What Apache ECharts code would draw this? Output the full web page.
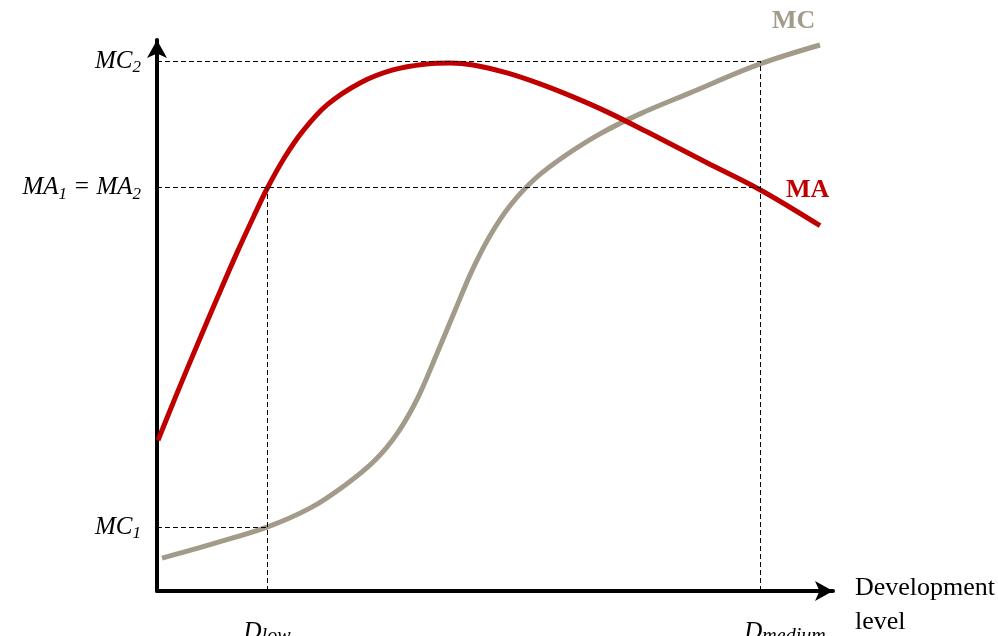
<!DOCTYPE html>
<html><head><meta charset="utf-8">
<script src="https://cdn.jsdelivr.net/npm/echarts@6/dist/echarts.min.js"></script>
<style>html,body{margin:0;padding:0;background:#fff}#c{width:998px;height:636px}</style>
</head><body><div id="c"></div>
<script>
// Conceptual curves (x: development level, y: marginal value)
const maX = [1, 20, 40, 60, 80, 98, 110, 128, 146, 170, 203, 236, 270, 293, 316, 350, 383, 416, 450, 490, 550, 603, 663];
const maY = [151, 198, 246, 293, 339, 378, 403, 435, 461, 487, 509, 522, 528, 529, 527, 519, 508, 495, 480, 460, 429, 402, 366];
const mcX = [5, 58, 110, 153, 188, 218, 241, 261, 280, 298, 315, 333, 353, 378, 408, 443, 483, 533, 603, 663];
const mcY = [33, 48, 64, 83, 106, 131, 159, 194, 238, 281, 321, 356, 386, 413, 436, 458, 478, 499, 528, 547];
// reference levels
const dLow = 110, dMedium = 603;
const mc1 = 64, ma12 = 404, mc2 = 531;
const xMax = 676, yMax = 552;

const SERIF = "'Liberation Serif', 'DejaVu Serif', serif";
const rich = {
  i: { fontFamily: SERIF, fontStyle: 'italic', fontSize: 25, color: '#000', lineHeight: 30, verticalAlign: 'middle' },
  s: { fontFamily: SERIF, fontStyle: 'italic', fontSize: 17, color: '#000', lineHeight: 30, verticalAlign: 'bottom' },
  d: { fontFamily: SERIF, fontStyle: 'italic', fontSize: 20, color: '#000', lineHeight: 30, verticalAlign: 'bottom' }
};

const chart = echarts.init(document.getElementById('c'), null, { renderer: 'canvas' });
const dash = { color: '#000', width: 1, type: [5, 3] };
function hLine(y, x2, text) {
  return [{ coord: [0, y], label: { formatter: text } }, { coord: [x2, y] }];
}
chart.setOption({
  animation: false,
  grid: { left: 157, right: 165, top: 40, bottom: 45 },
  xAxis: {
    type: 'value', min: 0, max: xMax,
    axisLine: { show: true, lineStyle: { color: '#000', width: 4 }, symbol: ['none', 'arrow'], symbolSize: [15, 18] },
    axisTick: { show: false }, axisLabel: { show: false }, splitLine: { show: false }
  },
  yAxis: {
    type: 'value', min: 0, max: yMax,
    axisLine: { show: true, lineStyle: { color: '#000', width: 4 }, symbol: ['none', 'arrow'], symbolSize: [15, 18] },
    axisTick: { show: false }, axisLabel: { show: false }, splitLine: { show: false }
  },
  series: [
    {
      name: 'guides', type: 'line', data: [], silent: true,
      markLine: {
        silent: true, symbol: ['none', 'none'], lineStyle: dash,
        label: { show: true, position: 'start', distance: 16, rich: rich },
        data: [
          hLine(mc2, dMedium, '{i|MC}{s|2}'),
          hLine(ma12, dMedium, '{i|MA}{s|1}{i| = MA}{s|2}'),
          hLine(mc1, dLow, '{i|MC}{s|1}'),
          [{ coord: [dLow, 0], label: { formatter: '{i|D}{d|low}', distance: 26 } }, { coord: [dLow, ma12] }],
          [{ coord: [dMedium, 0], label: { formatter: '{i|D}{d|medium}', distance: 26, offset: [25, 0] } }, { coord: [dMedium, mc2] }]
        ]
      }
    },
    {
      name: 'MC', type: 'line', smooth: 0.35, showSymbol: false,
      data: mcX.map((x, i) => [x, mcY[i]]),
      lineStyle: { color: '#A39B8A', width: 5 }
    },
    {
      name: 'MA', type: 'line', smooth: 0.35, showSymbol: false,
      data: maX.map((x, i) => [x, maY[i]]),
      lineStyle: { color: '#C00000', width: 5 }
    }
  ],
  graphic: [
    { type: 'text', left: 772, top: 8, style: { text: 'MC', font: "bold 26px " + SERIF, fill: '#A39B8A' } },
    { type: 'text', left: 786, top: 177, style: { text: 'MA', font: "bold 26px " + SERIF, fill: '#C00000' } },
    { type: 'text', left: 855, top: 571, style: { text: 'Development\nlevel', font: "26px " + SERIF, fill: '#000', lineHeight: 34 } }
  ]
});
</script></body></html>
